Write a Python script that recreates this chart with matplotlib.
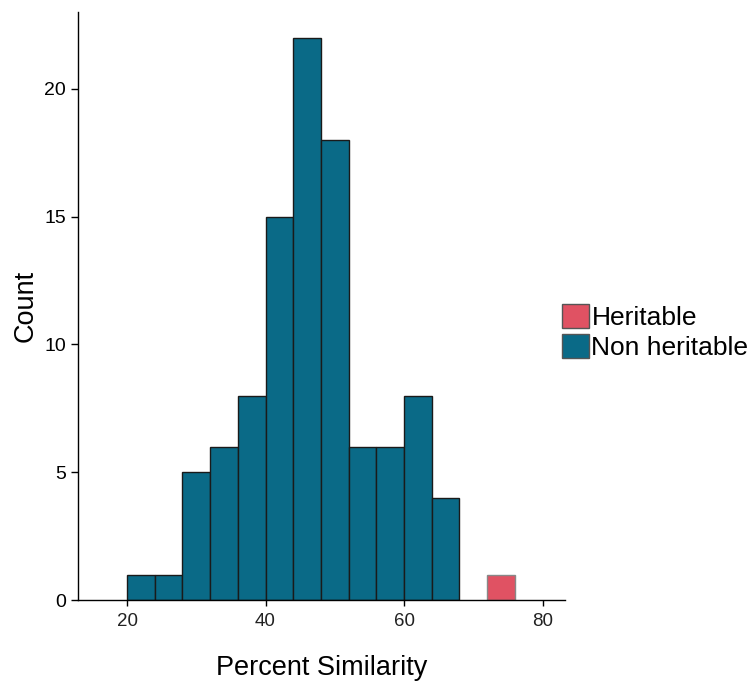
import matplotlib
matplotlib.use("Agg")
import matplotlib.pyplot as plt
import numpy as np
from matplotlib.patches import Patch

plt.rcParams['font.family'] = ['Liberation Sans', 'DejaVu Sans']

# Histogram bins (left edges) and counts
bin_edges = [20, 24, 28, 32, 36, 40, 44, 48, 52, 56, 60, 64, 68, 72, 76]
non_heritable_counts = [1, 1, 5, 6, 8, 15, 22, 18, 6, 6, 8, 4, 0, 0]
heritable_counts = [0, 0, 0, 0, 0, 0, 0, 0, 0, 0, 0, 0, 0, 1]
groups = ["Heritable", "Non heritable"]
colors = {"Heritable": "#E05263", "Non heritable": "#0A6A87"}
edgecolors = {"Heritable": "#888888", "Non heritable": "#1a1a1a"}

xticks = [20, 40, 60, 80]
yticks = [0, 5, 10, 15, 20]

fig = plt.figure(figsize=(7.56, 6.86), dpi=100)
ax = fig.add_axes([0.103, 0.125, 0.644, 0.8575])

lefts = np.array(bin_edges[:-1])
widths = np.diff(bin_edges)
for name, counts in [("Non heritable", non_heritable_counts), ("Heritable", heritable_counts)]:
    c = np.array(counts)
    m = c > 0
    ax.bar(lefts[m], c[m], width=widths[m], align='edge',
           color=colors[name], edgecolor=edgecolors[name], linewidth=1.0)

ax.set_xlim(12.9, 83.2)
ax.set_ylim(0, 23.0)
ax.set_xticks(xticks)
ax.set_yticks(yticks)
ax.spines['top'].set_visible(False)
ax.spines['right'].set_visible(False)
ax.spines['left'].set_linewidth(1.0)
ax.spines['bottom'].set_linewidth(1.0)
ax.tick_params(axis='y', labelsize=14, length=5, width=1.0, colors='black')
ax.tick_params(axis='x', labelsize=13.5, length=4, width=1.0, colors='black', labelcolor='#222222', pad=5)

ax.set_xlabel("Percent Similarity", fontsize=19.5, labelpad=18)
ax.set_ylabel("Count", fontsize=19.5, labelpad=4)

handles = [Patch(facecolor=colors[g], edgecolor='#555555', linewidth=1.0, label=g) for g in groups]
fig.legend(handles=handles, loc='center left', bbox_to_anchor=(0.73, 0.516),
           frameon=False, fontsize=19, handlelength=1.0, handleheight=1.05,
           handletextpad=0.1, labelspacing=0.15, borderaxespad=0)

fig.savefig("out.png", dpi=100)
